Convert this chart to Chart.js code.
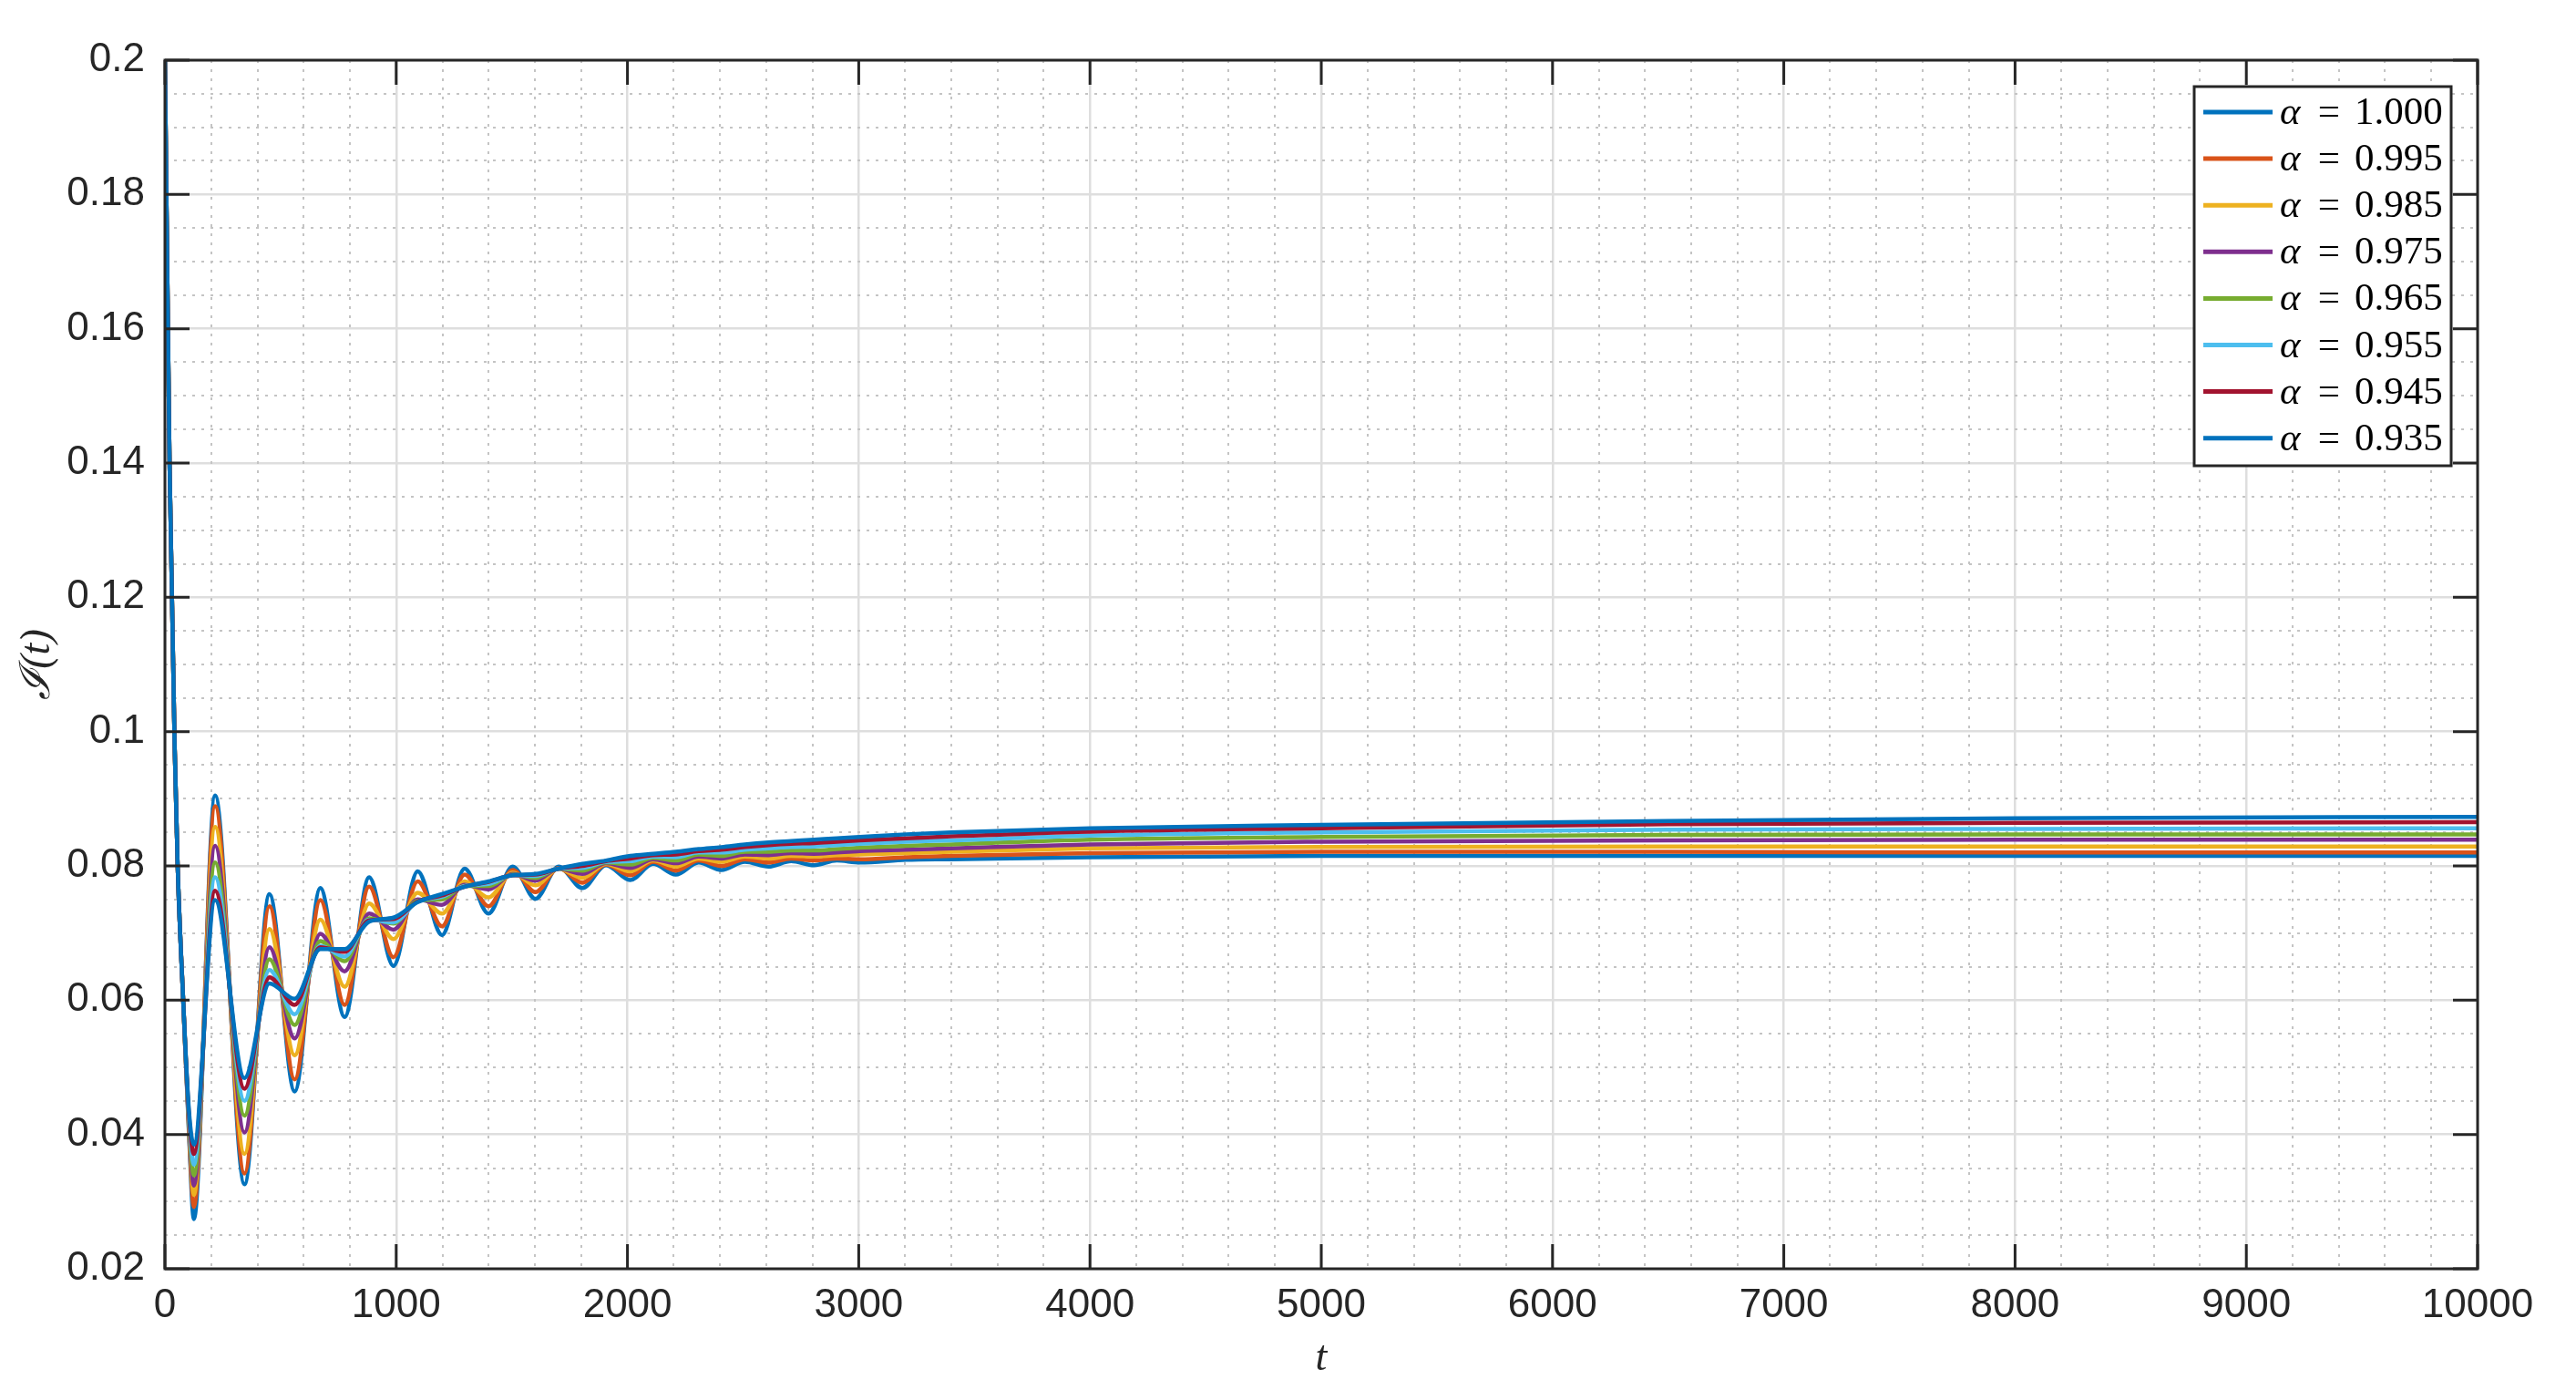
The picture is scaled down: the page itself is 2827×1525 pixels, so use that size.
<!DOCTYPE html>
<html lang="en">
<head>
  <meta charset="UTF-8">
  <title>I(t) for several alpha</title>
  <script src="https://cdn.jsdelivr.net/npm/chart.js"></script>
  <style>
    html, body { margin: 0; padding: 0; background: #fff; }
    canvas { display: block; }
  </style>
</head>
<body>
<canvas id="chart" width="2827" height="1525"></canvas>

<script>
  // sample times (peaks / troughs of the alpha = 1 curve, then the flat tail)
  const tValues = [0, 20, 42, 55, 79, 104, 125, 217, 344, 452, 561, 672, 777, 883, 988, 1093,
    1198, 1296, 1399, 1504, 1602, 1702, 1805, 1907, 2012, 2111, 2209, 2308, 2406, 2508, 2610,
    2708, 2807, 2905, 3005, 3205, 3400, 4000, 5000, 6500, 8000, 10000];

  const alpha1000 = [0.2, 0.14, 0.098, 0.08, 0.06, 0.0400, 0.0274, 0.0905, 0.0326, 0.0758, 0.0464,
    0.0767, 0.0575, 0.0783, 0.0651, 0.0792, 0.0697, 0.0796, 0.0729, 0.0799, 0.0751, 0.0799, 0.0767,
    0.0801, 0.0779, 0.0803, 0.0787, 0.0805, 0.0794, 0.0806, 0.0799, 0.0807, 0.0801, 0.0808, 0.0805,
    0.0809, 0.0810, 0.0813, 0.0815, 0.0815, 0.0815, 0.0815];
  const alpha0995 = [0.2, 0.14, 0.098, 0.08, 0.06, 0.0405, 0.0292, 0.0889, 0.0342, 0.0740, 0.0482,
    0.0749, 0.0593, 0.0769, 0.0664, 0.0777, 0.0710, 0.0787, 0.0740, 0.0794, 0.0761, 0.0797, 0.0775,
    0.0802, 0.0786, 0.0806, 0.0793, 0.0808, 0.0800, 0.0810, 0.0805, 0.0811, 0.0808, 0.0811, 0.0810,
    0.0813, 0.0815, 0.0819, 0.0821, 0.0821, 0.0820, 0.0820];
  const alpha0985 = [0.2, 0.14, 0.098, 0.08, 0.06, 0.0410, 0.0310, 0.0858, 0.0371, 0.0706, 0.0518,
    0.0720, 0.0620, 0.0744, 0.0691, 0.0760, 0.0729, 0.0777, 0.0753, 0.0790, 0.0771, 0.0796, 0.0782,
    0.0803, 0.0792, 0.0808, 0.0799, 0.0811, 0.0806, 0.0814, 0.0811, 0.0815, 0.0814, 0.0816, 0.0817,
    0.0819, 0.0821, 0.0826, 0.0828, 0.0829, 0.0829, 0.0829];
  const alpha0975 = [0.2, 0.14, 0.098, 0.08, 0.06, 0.0415, 0.0324, 0.0830, 0.0403, 0.0679, 0.0543,
    0.0699, 0.0643, 0.0729, 0.0705, 0.0750, 0.0742, 0.0772, 0.0765, 0.0788, 0.0778, 0.0796, 0.0788,
    0.0804, 0.0797, 0.0810, 0.0804, 0.0814, 0.0811, 0.0817, 0.0816, 0.0819, 0.0818, 0.0820, 0.0822,
    0.0824, 0.0826, 0.0832, 0.0836, 0.0838, 0.0839, 0.0839];
  const alpha0965 = [0.2, 0.14, 0.098, 0.08, 0.06, 0.0420, 0.0339, 0.0805, 0.0428, 0.0661, 0.0563,
    0.0688, 0.0658, 0.0722, 0.0714, 0.0748, 0.0750, 0.0770, 0.0770, 0.0787, 0.0782, 0.0796, 0.0793,
    0.0805, 0.0802, 0.0812, 0.0808, 0.0817, 0.0815, 0.0821, 0.0821, 0.0823, 0.0823, 0.0825, 0.0827,
    0.0830, 0.0832, 0.0839, 0.0843, 0.0846, 0.0847, 0.0847];
  const alpha0955 = [0.2, 0.14, 0.098, 0.08, 0.06, 0.0425, 0.0355, 0.0783, 0.0450, 0.0645, 0.0579,
    0.0681, 0.0665, 0.0720, 0.0716, 0.0747, 0.0754, 0.0770, 0.0773, 0.0786, 0.0785, 0.0796, 0.0797,
    0.0806, 0.0807, 0.0814, 0.0813, 0.0820, 0.0820, 0.0824, 0.0826, 0.0828, 0.0829, 0.0831, 0.0833,
    0.0836, 0.0838, 0.0845, 0.0850, 0.0854, 0.0855, 0.0856];
  const alpha0945 = [0.2, 0.14, 0.098, 0.08, 0.06, 0.0430, 0.0371, 0.0763, 0.0468, 0.0634, 0.0593,
    0.0679, 0.0672, 0.0719, 0.0721, 0.0747, 0.0756, 0.0769, 0.0776, 0.0786, 0.0787, 0.0796, 0.0800,
    0.0807, 0.0811, 0.0816, 0.0817, 0.0822, 0.0824, 0.0828, 0.0831, 0.0833, 0.0834, 0.0836, 0.0838,
    0.0841, 0.0844, 0.0851, 0.0856, 0.0862, 0.0864, 0.0865];
  const alpha0935 = [0.2, 0.14, 0.098, 0.08, 0.06, 0.0435, 0.0385, 0.0749, 0.0484, 0.0625, 0.0602,
    0.0676, 0.0676, 0.0717, 0.0723, 0.0746, 0.0758, 0.0769, 0.0777, 0.0786, 0.0788, 0.0796, 0.0803,
    0.0808, 0.0815, 0.0818, 0.0821, 0.0825, 0.0828, 0.0832, 0.0835, 0.0837, 0.0839, 0.0841, 0.0843,
    0.0847, 0.0850, 0.0856, 0.0861, 0.0867, 0.0871, 0.0873];

  const alphaLabels = ['1.000', '0.995', '0.985', '0.975', '0.965', '0.955', '0.945', '0.935'];
  const seriesValues = [alpha1000, alpha0995, alpha0985, alpha0975, alpha0965, alpha0955, alpha0945, alpha0935];
  // MATLAB default colour order (wraps after 7)
  const seriesColors = ['#0072BD', '#D95319', '#EDB120', '#7E2F8E', '#77AC30', '#4DBEEE', '#A2142F', '#0072BD'];

  const AXIS_COLOR = '#262626';
  const GRID_COLOR = '#dedede';
  const MINOR_COLOR = '#c4c4c4';
  const TICK_LEN = 27;

  const isMajorY = v => Math.abs(v / 0.02 - Math.round(v / 0.02)) < 1e-6;

  // box round the axes with inward ticks, like MATLAB's "box on"
  const axesBox = {
    id: 'axesBox',
    afterDatasetsDraw(chart) {
      const {ctx, chartArea: a, scales: {x, y}} = chart;
      ctx.save();
      ctx.strokeStyle = AXIS_COLOR;
      ctx.lineWidth = 3;
      ctx.beginPath();
      x.ticks.forEach(t => {
        const px = x.getPixelForValue(t.value);
        ctx.moveTo(px, a.bottom); ctx.lineTo(px, a.bottom - TICK_LEN);
        ctx.moveTo(px, a.top); ctx.lineTo(px, a.top + TICK_LEN);
      });
      y.ticks.forEach(t => {
        const py = y.getPixelForValue(t.value);
        ctx.moveTo(a.left, py); ctx.lineTo(a.left + TICK_LEN, py);
        ctx.moveTo(a.right, py); ctx.lineTo(a.right - TICK_LEN, py);
      });
      ctx.stroke();
      ctx.strokeRect(a.left, a.top, a.right - a.left, a.bottom - a.top);
      ctx.restore();
    }
  };

  // boxed legend in the upper right corner of the axes
  const boxLegend = {
    id: 'boxLegend',
    afterDraw(chart) {
      const {ctx, chartArea: a} = chart;
      const w = 282, h = 416;
      const left = a.right - 311, top = a.top + 29;
      const rowH = 51.1;
      ctx.save();
      ctx.fillStyle = '#fff';
      ctx.fillRect(left, top, w, h);
      ctx.strokeStyle = AXIS_COLOR;
      ctx.lineWidth = 3;
      ctx.strokeRect(left, top, w, h);
      chart.data.datasets.forEach((ds, i) => {
        const cy = top + 28 + rowH * i;
        ctx.strokeStyle = ds.borderColor;
        ctx.lineWidth = 5;
        ctx.beginPath();
        ctx.moveTo(left + 10, cy);
        ctx.lineTo(left + 86, cy);
        ctx.stroke();
        const base = cy + 13;
        ctx.fillStyle = '#000';
        ctx.textBaseline = 'alphabetic';
        ctx.textAlign = 'left';
        ctx.font = 'italic 43px "Liberation Serif", "DejaVu Serif", serif';
        ctx.fillText('α', left + 94, base);
        ctx.font = '43px "Liberation Serif", "DejaVu Serif", serif';
        ctx.textAlign = 'center';
        ctx.fillText('=', left + 148, base);
        ctx.textAlign = 'left';
        ctx.fillText(alphaLabels[i], left + 176, base);
      });
      ctx.restore();
    }
  };

  const datasets = seriesValues.map((vals, i) => ({
    label: 'α = ' + alphaLabels[i],
    data: tValues.map((t, k) => ({x: t, y: vals[k]})),
    borderColor: seriesColors[i],
    backgroundColor: seriesColors[i],
    borderWidth: 4.5,
    pointRadius: 0,
    fill: false,
    cubicInterpolationMode: 'monotone',
    order: seriesValues.length - i   // last series drawn on top
  }));

  const tickFont = {family: '"Liberation Sans", Arial, Helvetica, sans-serif', size: 44};
  const titleFont = {family: '"Liberation Serif", "DejaVu Serif", serif', size: 46, style: 'italic'};

  new Chart(document.getElementById('chart'), {
    type: 'line',
    data: {datasets},
    plugins: [axesBox, boxLegend],
    options: {
      responsive: false,
      animation: false,
      devicePixelRatio: 1,
      layout: {padding: {top: 66, right: 108, left: 0, bottom: 0}},
      plugins: {legend: {display: false}, tooltip: {enabled: false}},
      scales: {
        x: {
          type: 'linear', position: 'bottom', min: 0, max: 10000,
          ticks: {stepSize: 1000, autoSkip: false, maxRotation: 0, padding: 14, color: AXIS_COLOR,
            font: tickFont, callback: v => String(v)},
          grid: {color: GRID_COLOR, lineWidth: 2.5, drawTicks: false},
          border: {display: false},
          title: {display: true, text: 't', color: AXIS_COLOR, font: titleFont, padding: {top: 0, bottom: 6}},
          afterFit: s => { s.height = 133; }
        },
        y: {
          type: 'linear', position: 'left', min: 0.02, max: 0.2,
          ticks: {stepSize: 0.02, autoSkip: false, padding: 22, color: AXIS_COLOR,
            font: tickFont, callback: v => String(+v.toFixed(2))},
          grid: {color: GRID_COLOR, lineWidth: 2.5, drawTicks: false},
          border: {display: false},
          title: {display: true, text: 'ℐ(t)', color: AXIS_COLOR, font: titleFont, padding: {top: 14, bottom: 0}},
          afterFit: s => { s.width = 181; }
        },
        xMinor: {
          type: 'linear', position: 'bottom', min: 0, max: 10000,
          ticks: {stepSize: 200, display: false, autoSkip: false},
          grid: {color: c => (c.tick.value % 1000 === 0 ? 'rgba(0,0,0,0)' : MINOR_COLOR),
            lineWidth: 2, drawTicks: false},
          border: {display: false, dash: [3, 7]},
          afterFit: s => { s.height = 0; }
        },
        yMinor: {
          type: 'linear', position: 'left', min: 0.02, max: 0.2,
          ticks: {stepSize: 0.005, display: false, autoSkip: false},
          grid: {color: c => (isMajorY(c.tick.value) ? 'rgba(0,0,0,0)' : MINOR_COLOR),
            lineWidth: 2, drawTicks: false},
          border: {display: false, dash: [3, 7]},
          afterFit: s => { s.width = 0; }
        }
      }
    }
  });
</script>
</body>
</html>
